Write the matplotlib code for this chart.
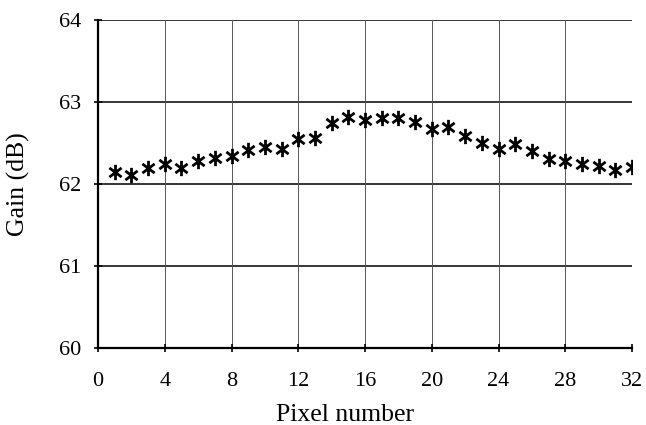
import matplotlib
matplotlib.use("Agg")
import matplotlib.pyplot as plt
from matplotlib.path import Path

pixels = list(range(1, 33))
gain_db = [62.15, 62.11, 62.19, 62.25, 62.19, 62.28, 62.32, 62.34, 62.42, 62.45,
           62.43, 62.55, 62.56, 62.75, 62.82, 62.78, 62.81, 62.80, 62.76, 62.67,
           62.69, 62.58, 62.50, 62.43, 62.49, 62.40, 62.31, 62.28, 62.24, 62.22,
           62.17, 62.21]
x_ticks = [0, 4, 8, 12, 16, 20, 24, 28, 32]
y_ticks = [60, 61, 62, 63, 64]

plt.rcParams['font.family'] = ['Liberation Serif', 'DejaVu Serif']

star = Path([(0, -1), (0, 1), (-0.8, -0.6), (0.8, 0.6), (-0.8, 0.6), (0.8, -0.6)],
            [Path.MOVETO, Path.LINETO, Path.MOVETO, Path.LINETO, Path.MOVETO, Path.LINETO])

fig = plt.figure(figsize=(6.46, 4.25), dpi=100)
ax = fig.add_axes([98/646, 1 - 348/425, (632-98)/646, (348-20)/425])

ax.plot(pixels, gain_db, linestyle='none', marker=star, markersize=11,
        markeredgewidth=2.0, color='black', zorder=3)

ax.set_xlim(0, 32)
ax.set_ylim(60, 64)
ax.set_xticks(x_ticks)
ax.set_yticks(y_ticks)
ax.tick_params(axis='both', labelsize=16, direction='inout', length=6, width=1.2)
ax.tick_params(axis='x', pad=14)
ax.tick_params(axis='y', pad=9)
for y in y_ticks[1:]:
    ax.axhline(y, color='black', linewidth=1.1, zorder=1)
for x in x_ticks[1:]:
    ax.axvline(x, color='#555555', linewidth=0.7, zorder=1)

for s in ['top', 'right']:
    ax.spines[s].set_visible(False)
ax.spines['left'].set_linewidth(1.6)
ax.spines['bottom'].set_linewidth(1.6)

ax.set_xlabel('Pixel number', fontsize=18.5)
ax.set_ylabel('Gain (dB)', fontsize=18.5)
ax.xaxis.set_label_coords((345 - 98) / 534, -(421 - 348) / 328, transform=ax.transAxes)
ax.xaxis.label.set_va('baseline')
ax.yaxis.set_label_coords(-(98 - 7) / 534, 0.5, transform=ax.transAxes)
ax.yaxis.label.set_va('top')

fig.savefig('out.png', dpi=100)
